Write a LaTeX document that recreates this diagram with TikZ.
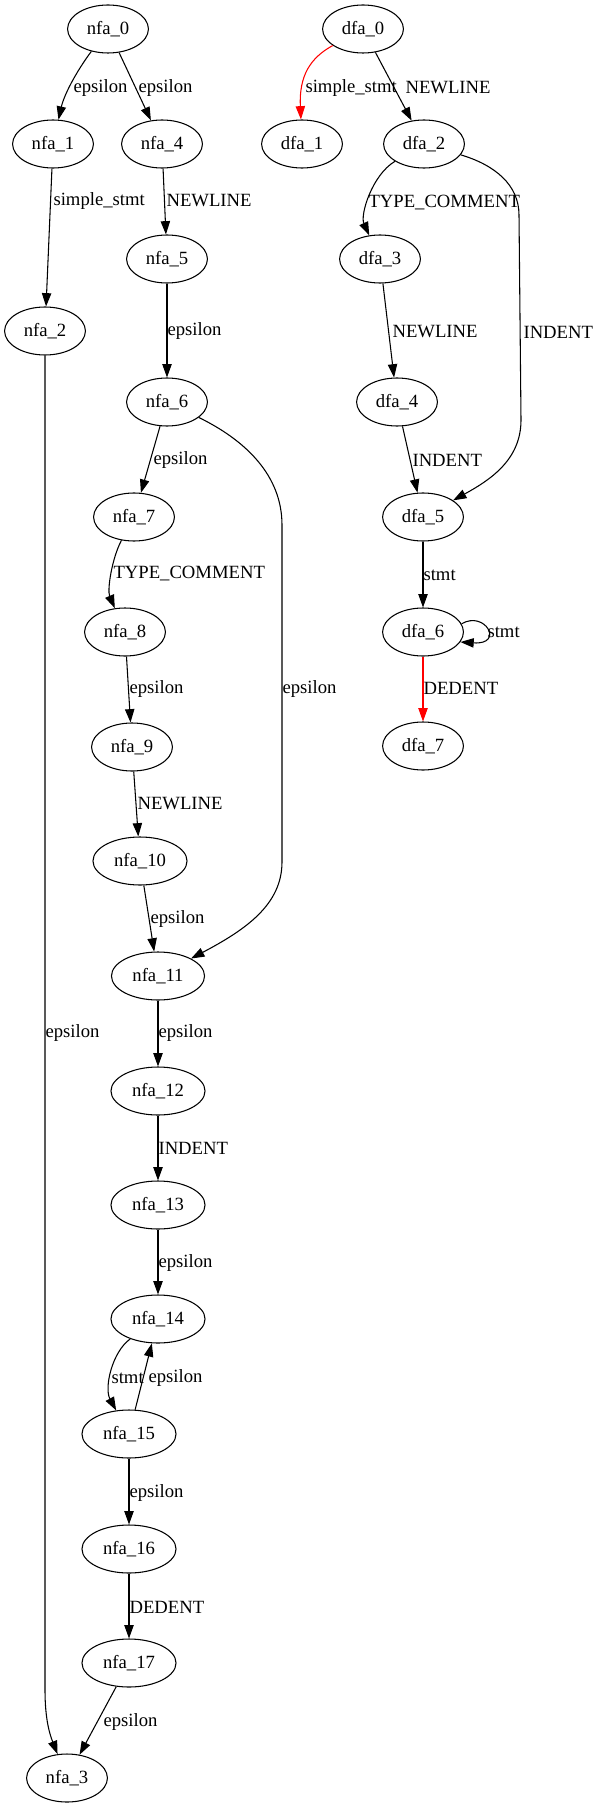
\documentclass[tikz,border=0pt]{standalone}
\usepackage{fontspec}
\setmainfont{Liberation Serif}
\usetikzlibrary{shapes.geometric, arrows.meta}
\tikzset{
  nstate/.style={
    ellipse, draw, line width=0.8pt,
    inner xsep=5.5pt, inner ysep=0pt, minimum height=36pt,
    font=\fontsize{14}{16}\selectfont
  },
  trans/.style={-{Triangle[length=10pt, width=7pt]}, line width=0.8pt},
  redtrans/.style={trans, draw=red},
  lbl/.style={anchor=west, inner sep=0pt, font=\fontsize{14}{16}\selectfont},
}

\begin{document}
\begin{tikzpicture}[x=0.75pt, y=-0.75pt]
\useasboundingbox (0,0) rectangle (598,1808);

%% ---- NFA ----
\node[nstate] (nfa0)  at (108,29)   {nfa\_0};
\node[nstate] (nfa1)  at (53,144)   {nfa\_1};
\node[nstate] (nfa4)  at (162,144)  {nfa\_4};
\node[nstate] (nfa5)  at (167,259)  {nfa\_5};
\node[nstate] (nfa2)  at (45,331)   {nfa\_2};
\node[nstate] (nfa6)  at (167,402)  {nfa\_6};
\node[nstate] (nfa7)  at (134,517)  {nfa\_7};
\node[nstate] (nfa8)  at (125,632)  {nfa\_8};
\node[nstate] (nfa9)  at (132,747)  {nfa\_9};
\node[nstate] (nfa10) at (140,861)  {nfa\_10};
\node[nstate] (nfa11) at (158,976)  {nfa\_11};
\node[nstate] (nfa12) at (158,1091) {nfa\_12};
\node[nstate] (nfa13) at (158,1205) {nfa\_13};
\node[nstate] (nfa14) at (158,1319) {nfa\_14};
\node[nstate] (nfa15) at (129,1434) {nfa\_15};
\node[nstate] (nfa16) at (129,1549) {nfa\_16};
\node[nstate] (nfa17) at (129,1663) {nfa\_17};
\node[nstate] (nfa3)  at (67,1778)  {nfa\_3};

\draw[trans] (nfa0) .. controls (76,72) and (64,95) .. (nfa1)
  node[lbl] at (73,88) {epsilon};
\draw[trans] (nfa0) -- (nfa4) node[lbl] at (138,88) {epsilon};
\draw[trans] (nfa1) -- (nfa2) node[lbl] at (53,201) {simple\_stmt};
\draw[trans] (nfa4) -- (nfa5) node[lbl] at (166,201) {NEWLINE};
\draw[trans] (nfa5) -- (nfa6) node[lbl] at (167,331) {epsilon};
\draw[trans] (nfa6) -- (nfa7) node[lbl] at (153,460) {epsilon};
\draw[trans] (nfa7) .. controls (112,558) and (107,590) .. (nfa8)
  node[lbl] at (113,574) {TYPE\_COMMENT};
\draw[trans] (nfa8) -- (nfa9) node[lbl] at (129,689) {epsilon};
\draw[trans] (nfa9) -- (nfa10) node[lbl] at (137,804) {NEWLINE};
\draw[trans] (nfa10) -- (nfa11) node[lbl] at (150,919) {epsilon};
\draw[trans] (nfa6) .. controls (245,440) and (282,475) .. (282,525)
  -- (282,862) .. controls (282,905) and (245,930) .. (nfa11)
  node[lbl] at (282,689) {epsilon};
\draw[trans] (nfa11) -- (nfa12) node[lbl] at (158,1033) {epsilon};
\draw[trans] (nfa12) -- (nfa13) node[lbl] at (158,1148) {INDENT};
\draw[trans] (nfa13) -- (nfa14) node[lbl] at (158,1263) {epsilon};
\draw[trans] (nfa14) .. controls (112,1352) and (104,1388) .. (nfa15)
  node[lbl] at (111,1378) {stmt};
\draw[trans] (nfa15) -- (nfa14) node[lbl] at (148,1378) {epsilon};
\draw[trans] (nfa15) -- (nfa16) node[lbl] at (129,1493) {epsilon};
\draw[trans] (nfa16) -- (nfa17) node[lbl] at (129,1607) {DEDENT};
\draw[trans] (nfa17) -- (nfa3) node[lbl] at (103,1722) {epsilon};
\draw[trans] (nfa2) -- (45,1690) .. controls (45,1720) and (50,1735) .. (nfa3)
  node[lbl] at (45,1033) {epsilon};

%% ---- DFA ----
\node[nstate] (dfa0) at (363,29)  {dfa\_0};
\node[nstate] (dfa1) at (302,144) {dfa\_1};
\node[nstate] (dfa2) at (424,144) {dfa\_2};
\node[nstate] (dfa3) at (380,259) {dfa\_3};
\node[nstate] (dfa4) at (397,402) {dfa\_4};
\node[nstate] (dfa5) at (423,517) {dfa\_5};
\node[nstate] (dfa6) at (423,632) {dfa\_6};
\node[nstate] (dfa7) at (423,746) {dfa\_7};

\draw[redtrans] (dfa0) .. controls (310,58) and (299,76) .. (dfa1)
  node[lbl, text=black] at (305,88) {simple\_stmt};
\draw[trans] (dfa0) -- (dfa2) node[lbl] at (405,88) {NEWLINE};
\draw[trans] (dfa2) .. controls (372,175) and (360,215) .. (dfa3)
  node[lbl] at (368,203) {TYPE\_COMMENT};
\draw[trans] (dfa2) .. controls (495,165) and (519,185) .. (519,215)
  -- (521,420) .. controls (521,460) and (490,480) .. (dfa5)
  node[lbl] at (523,332) {INDENT};
\draw[trans] (dfa3) -- (dfa4) node[lbl] at (392,332) {NEWLINE};
\draw[trans] (dfa4) -- (dfa5) node[lbl] at (412,460) {INDENT};
\draw[trans] (dfa5) -- (dfa6) node[lbl] at (423,575) {stmt};
\draw[trans] (dfa6.12) .. controls (485,610) and (505,645) .. (dfa6.-15)
  node[lbl] at (487,632) {stmt};
\draw[redtrans] (dfa6) -- (dfa7) node[lbl, text=black] at (423,688) {DEDENT};

\end{tikzpicture}
\end{document}
